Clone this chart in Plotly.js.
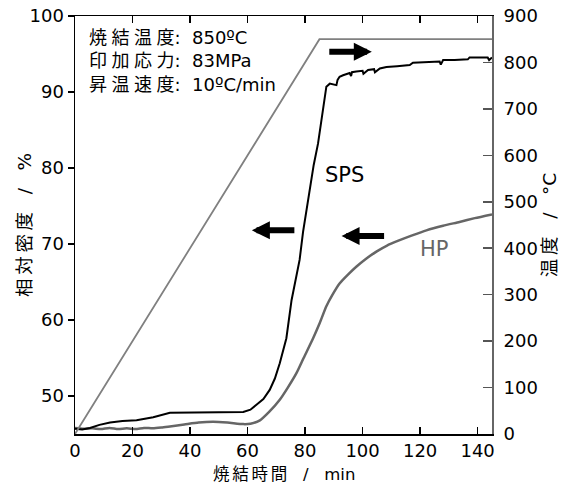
<!DOCTYPE html>
<html>
<head>
<meta charset="utf-8">
<script src="https://cdn.plot.ly/plotly-3.0.1.min.js"></script>
<style>html,body{margin:0;padding:0;background:#fff;}#chart{width:566px;height:483px;}</style>
</head>
<body>
<div id="chart"></div>
<script>
// Sintering time (min) and relative density (%) for SPS
const spsTime = [0, 2.5, 5.2, 8.5, 12.2, 16.5, 21.4, 27.2, 33, 40, 50, 58.5, 61, 63.1, 65.5, 67.7, 69.5, 71.2, 73.5, 75.3, 77, 78.1, 79.3, 80.5, 81.6, 83, 84.5, 85.8, 86.8, 87.4, 88.6, 90, 90.9, 91.3, 92.0, 93.2, 94.4, 95.5, 96, 96.3, 97.8, 100, 100.3, 101.9, 104, 104.3, 106, 108.3, 112, 116.4, 117.5, 122, 126.8, 127.2, 128, 132, 136.6, 137.2, 142, 143.5, 144, 145];
const spsDens = [45.7, 45.6, 45.8, 46.2, 46.5, 46.7, 46.8, 47.2, 47.8, 47.85, 47.85, 47.9, 48.2, 48.8, 49.6, 50.8, 52.3, 54.3, 57.6, 62.6, 66.0, 67.9, 71.6, 74.5, 77.5, 80.4, 83.2, 86.5, 88.9, 90.7, 91.1, 91.0, 90.9, 91.6, 92.0, 92.2, 92.4, 92.5, 92.1, 92.6, 92.7, 92.8, 92.4, 92.9, 93.0, 92.6, 93.1, 93.3, 93.4, 93.55, 93.85, 93.9, 94.0, 93.6, 94.2, 94.2, 94.3, 94.55, 94.55, 94.55, 94.2, 94.55];
// Relative density (%) for HP
const hpTime = [0, 3, 6, 9, 12, 15, 18, 21, 24, 27, 30, 33, 38, 43, 48, 53, 58.5, 61, 64.3, 67.5, 71.2, 74, 77, 79.5, 82.8, 85.1, 87.4, 89.5, 92, 95, 97.8, 101, 104.8, 108.5, 112.9, 117, 122.2, 128, 133.7, 139, 145];
const hpDens = [45.8, 45.7, 45.75, 45.65, 45.8, 45.65, 45.75, 45.65, 45.8, 45.75, 45.85, 46.0, 46.25, 46.5, 46.6, 46.5, 46.3, 46.35, 46.8, 47.9, 49.5, 51.1, 53.0, 55.0, 57.6, 59.6, 61.8, 63.3, 64.8, 66.0, 67.0, 68.0, 69.0, 69.8, 70.5, 71.1, 71.8, 72.4, 72.9, 73.4, 73.9];
// Temperature program (°C)
const tempTime = [0, 85, 145];
const tempVal = [0, 850, 850];
// Axis ticks
const densTicks = [50, 60, 70, 80, 90, 100];
const tempTicks = [0, 100, 200, 300, 400, 500, 600, 700, 800, 900];
const timeTicks = [0, 20, 40, 60, 80, 100, 120, 140];
// Conditions text
const condLines = ['焼結温度: 850ºC', '印加応力: 83MPa', '昇温速度: 10ºC/min'];

const FONT = 'DejaVu Sans, Noto Sans CJK JP, sans-serif';
const NB = '\u00a0';
// widen spacing between CJK characters (as in the original typesetting)
function spaceCJK(s, sp) {
  return s.replace(/([\u3000-\u9fff])(?=[\u3000-\u9fff])/g, '$1' + sp).replace(/: /g, ':' + NB + NB);
}
const sep = NB + NB + NB + '/' + NB + NB + NB;

const traces = [
  {x: tempTime, y: tempVal, yaxis: 'y2', mode: 'lines', line: {color: '#808080', width: 1.8}, hoverinfo: 'skip'},
  {x: hpTime, y: hpDens, mode: 'lines', line: {color: '#666666', width: 2.5, shape: 'spline', smoothing: 0.6}, hoverinfo: 'skip'},
  {x: spsTime, y: spsDens, mode: 'lines', line: {color: '#000000', width: 2}, hoverinfo: 'skip'}
];

const annotations = [
  {xref: 'paper', yref: 'paper', x: 0.028, y: 0.978, xanchor: 'left', yanchor: 'top', align: 'left', showarrow: false,
   text: condLines.map(s => spaceCJK(s, '\u2005')).join('<br>'), font: {family: FONT, size: 18, color: '#000'}},
  {xref: 'x', yref: 'y', x: 93.8, y: 79.1, text: 'SPS', showarrow: false, font: {family: FONT, size: 21, color: '#000'}},
  {xref: 'x', yref: 'y', x: 125, y: 69.3, text: 'HP', showarrow: false, font: {family: FONT, size: 21, color: '#666'}},
  {xref: 'x', yref: 'y', x: 103.2, y: 95.3, ax: -44, ay: 0, text: '', showarrow: true, arrowhead: 2, arrowwidth: 6, arrowsize: 0.6, arrowcolor: '#000'},
  {xref: 'x', yref: 'y', x: 61.5, y: 71.8, ax: 44, ay: 0, text: '', showarrow: true, arrowhead: 2, arrowwidth: 6, arrowsize: 0.6, arrowcolor: '#000'},
  {xref: 'x', yref: 'y', x: 92.7, y: 71.05, ax: 44, ay: 0, text: '', showarrow: true, arrowhead: 2, arrowwidth: 6, arrowsize: 0.6, arrowcolor: '#000'},
  // axis titles
  {xref: 'paper', yref: 'paper', x: -0.1223, y: 0.5, xanchor: 'center', yanchor: 'middle', textangle: -90, showarrow: false,
   text: spaceCJK('相対密度', '\u2009') + sep + '%', font: {family: FONT, size: 18.5, color: '#000'}},
  {xref: 'paper', yref: 'paper', x: 0.5, y: -0.0957, xanchor: 'center', yanchor: 'middle', showarrow: false,
   text: spaceCJK('焼結時間', '\u2006') + sep + 'min', font: {family: FONT, size: 16.5, color: '#000'}}
];

const layout = {
  width: 566, height: 483,
  margin: {l: 75, r: 74, t: 16, b: 49, pad: 0},
  paper_bgcolor: '#fff', plot_bgcolor: '#fff',
  showlegend: false,
  font: {family: FONT, size: 18, color: '#000'},
  xaxis: {
    range: [0, 145], tickvals: timeTicks, ticks: 'inside', ticklen: 7, tickwidth: 1.5, tickcolor: '#000',
    showline: true, linecolor: '#000', linewidth: 1.5, mirror: 'ticks', showgrid: false, zeroline: false,
    tickfont: {family: FONT, size: 18, color: '#000'}
  },
  yaxis: {
    range: [45, 100], tickvals: densTicks, ticks: 'outside', ticklen: 6, tickwidth: 1.5, tickcolor: '#000',
    showline: true, linecolor: '#000', linewidth: 1.5, showgrid: false, zeroline: false,
    tickfont: {family: FONT, size: 18, color: '#000'}
  },
  yaxis2: {
    range: [0, 900], tickvals: tempTicks, overlaying: 'y', side: 'right', ticks: 'inside', ticklen: 9, tickwidth: 1.5, tickcolor: '#555',
    showline: true, linecolor: '#666', linewidth: 2, showgrid: false, zeroline: false,
    tickfont: {family: FONT, size: 18, color: '#000'}, ticklabelstandoff: 6,
    title: {text: spaceCJK('温度', '\u2009') + sep + '°C', font: {family: FONT, size: 18.5, color: '#000'}, standoff: 6}
  },
  annotations: annotations
};

Plotly.newPlot('chart', traces, layout, {displayModeBar: false, staticPlot: true});
</script>
</body>
</html>
